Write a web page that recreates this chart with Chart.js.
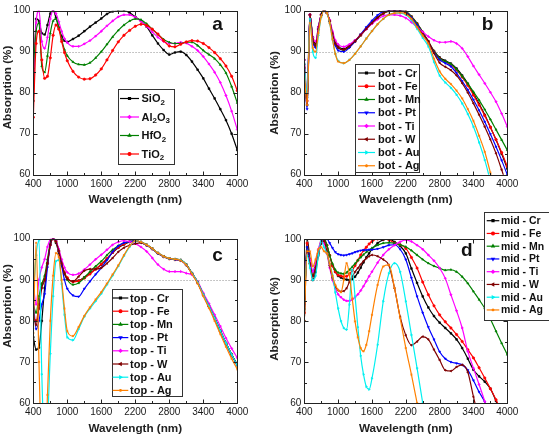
<!DOCTYPE html>
<html>
<head>
<meta charset="utf-8">
<script src="https://cdn.jsdelivr.net/npm/chart.js@4.4.1/dist/chart.umd.min.js"></script>
<style>
  body { margin: 0; background: #fff; width: 549px; height: 436px; position: relative; overflow: hidden; }
  canvas { position: absolute; }
</style>
</head>
<body>
<canvas id="chartA" width="275" height="218" style="left:0;top:0"></canvas>
<canvas id="chartB" width="287" height="218" style="left:262px;top:0"></canvas>
<canvas id="chartC" width="275" height="218" style="left:0;top:218px"></canvas>
<canvas id="chartD" width="287" height="236" style="left:262px;top:200px"></canvas>
<script>
// ---- data (wavelength in nm, absorption in %) ----
const wavelengths = [400,450,500,550,600,650,700,750,800,850,900,950,1000,
  1100,1200,1300,1400,1500,1600,1700,1800,1900,2000,
  2100,2200,2300,2400,2500,2600,2700,2800,2900,3000,
  3100,3200,3300,3400,3500,3600,3700,3800,3900,4000];

// panel d has finer steps up to 1600 nm
const wavelengthsD = [400,450,500,550,600,650,700,750,800,850,900,950,1000,
  1050,1100,1150,1200,1250,1300,1350,1400,1450,1500,1550,1600,
  1700,1800,1900,2000,2100,2200,2300,2400,2500,2600,2700,2800,2900,3000,
  3100,3200,3300,3400,3500,3600,3700,3800,3900,4000];

const xTickValues = [400, 1000, 1600, 2200, 2800, 3400, 4000];
const xMinorValues = [700, 1300, 1900, 2500, 3100, 3700];
const yTickValues = [60, 70, 80, 90, 100];
const yMinorValues = [65, 75, 85, 95];

// a: dielectric spacers
const oxideNames = ['SiO2', 'Al2O3', 'HfO2', 'TiO2'];
const sio2 = [78, 98, 97.5, 94.5, 94.2, 96.5, 99.3, 100, 98.3, 95.8, 93.8, 92.7, 92.4,
  93.1, 93.9, 95, 96.1, 97.1, 98.1, 99.2, 99.8, 100, 100,
  99.5, 98.5, 97.5, 96.1, 94, 92, 90.4, 89.3, 89.8, 90,
  89.2, 87.6, 85.6, 83.5, 81, 78.6, 76, 73.3, 70, 66];
const al2o3 = [82, 97, 100, 92.5, 90.8, 93.5, 98, 100, 99.3, 97.3, 95, 93.2, 92.2,
  91.3, 91.3, 91.9, 92.7, 93.8, 95, 96.3, 97.5, 98.5, 99,
  99, 98.4, 97.4, 96.2, 94.8, 93.5, 92.5, 92, 92, 92.3,
  92.1, 91.3, 90.3, 88.8, 87, 85, 82.5, 79.3, 75.5, 71];
const hfo2 = [86, 95, 97, 86.5, 85, 89, 94.5, 97.5, 98, 96, 93, 90.5, 89,
  87.5, 86.9, 86.8, 87.3, 88.5, 90, 91.8, 93.6, 95.2, 96.5,
  97.5, 98, 97.8, 96.8, 95.5, 94.2, 93, 92.3, 92, 92,
  92.3, 92.3, 91.5, 90.3, 89.3, 88.3, 86.8, 84.8, 81.5, 77.5];
const tio2 = [74, 92, 95, 88, 83.5, 84, 88.5, 94, 96.5, 95.5, 92.5, 89.8, 87.8,
  85.2, 83.8, 83.3, 83.4, 84.3, 85.8, 88, 90.3, 92.4, 94,
  95.2, 96.2, 96.7, 96.4, 95.5, 94.3, 92.7, 91.4, 91.2, 91.8,
  92.4, 92.7, 92.6, 92, 91, 89.8, 88.3, 86.5, 84, 80.5];

// b, c, d: metal layer in bottom / top / middle position
const metals = ['Cr', 'Fe', 'Mn', 'Pt', 'Ti', 'W', 'Au', 'Ag'];

const botCr = [88, 77, 99, 93.5, 92, 96, 99, 100, 99.5, 97.5, 94.5, 92.3, 91.3,
  90.7, 91.5, 92.7, 94.2, 95.7, 97.1, 98.4, 99.4, 100, 100,
  100, 99.8, 98.6, 96.9, 94.8, 92.5, 90.2, 88.6, 87.8, 87.1,
  85.9, 84.2, 82.2, 79.8, 77.3, 74.6, 71.6, 68.5, 65.1, 61.5];
const botFe = [86, 78, 99, 93, 91.5, 95.5, 99, 100, 99.5, 97.5, 94.3, 92, 91,
  90.4, 91.2, 92.5, 94, 95.6, 97, 98.3, 99.3, 100, 100,
  100, 99.8, 98.5, 96.8, 94.7, 92.3, 90, 88.3, 87.5, 86.8,
  85.5, 83.8, 81.8, 79.4, 77, 74.4, 71.6, 68.6, 65.4, 62];
const botMn = [87, 79, 99, 93, 91.5, 95.5, 99, 100, 99.5, 97.5, 94.3, 92, 91,
  90.4, 91.2, 92.5, 94, 95.6, 97, 98.3, 99.3, 99.9, 100,
  100, 99.8, 98.5, 96.8, 94.7, 92.3, 90, 88.3, 87.6, 87,
  85.7, 84, 82.2, 80.2, 78.2, 75.9, 73.5, 71, 68.5, 66];
const botPt = [85, 76, 99, 92.5, 91, 95.5, 99, 100, 99.5, 97.3, 94, 91.5, 90.3,
  90, 91, 92.5, 94.2, 96, 97.6, 98.9, 99.8, 100, 100,
  100, 99.7, 98.3, 96.5, 94.5, 92.2, 89.8, 88, 87.2, 86.4,
  84.8, 82.8, 80.7, 78.3, 75.7, 72.9, 69.9, 66.8, 63.5, 60];
const botTi = [88, 80, 99, 93.5, 92.5, 96, 99, 100, 99.5, 97.8, 95, 92.8, 91.8,
  91.2, 91.8, 92.8, 94.1, 95.5, 96.8, 97.9, 98.7, 99, 99,
  98.8, 98.2, 97.2, 96, 94.8, 93.7, 92.8, 92.3, 92.3, 92.5,
  92, 90.8, 88.8, 86.5, 84.4, 82.3, 80.1, 77.8, 74.9, 71.7];
const botW = [86, 77, 99, 93, 91.5, 95.5, 99, 100, 99.5, 97.5, 94.3, 92, 91,
  90.5, 91.3, 92.6, 94.1, 95.6, 97, 98.3, 99.3, 99.9, 100,
  99.9, 99.5, 98, 96, 94.3, 92.6, 89.6, 87.3, 86.3, 85.5,
  84.2, 82.3, 80, 77.4, 74.6, 71.7, 68.6, 65.2, 61.2, 57];
const botAu = [87, 80, 98, 90, 88.5, 94, 98.5, 100, 99.5, 97, 93, 89.5, 87.8,
  87.2, 88, 89.5, 91.3, 93.2, 95, 96.7, 98, 99, 99.4,
  99.4, 99, 97.7, 95.6, 93.4, 91.3, 87.5, 84.2, 82.5, 81.2,
  79.5, 77.4, 74.8, 71.7, 67.9, 63.6, 58.5, null, null, null];
const botAg = [85, 77, 97, 91, 90, 94.5, 98.5, 100, 99.5, 97, 93, 89.5, 87.6,
  87.2, 88, 89.5, 91.3, 93.2, 95, 96.7, 98, 99, 99.4,
  99.5, 99.2, 98, 96, 93.9, 92, 88.3, 85.2, 83.4, 82.1,
  80.5, 78.6, 76, 73.1, 69.5, 65.6, 60.5, 55, null, null];

const topCr = [76, 73, 73.5, 80, 88, 94, 98.5, 100, 99, 96.5, 93.5, 91.5, 90.3,
  89.6, 89.8, 90.6, 91.6, 92.6, 93.7, 95, 96.6, 97.8, 98.6,
  99.2, 99.5, 99.2, 98.5, 97.6, 96.5, 95.7, 95.2, 95, 94.8,
  93.7, 91.6, 89.4, 86.4, 83.6, 80.7, 77.6, 74.6, 71.8, 69.3];
const topFe = [81, 80, 84, 89, 90, 94, 98.5, 100, 99.3, 97, 94, 91.8, 90.5,
  89.5, 89.7, 90.4, 91.4, 92.6, 93.8, 95.2, 96.7, 97.9, 98.7,
  99.3, 99.5, 99.1, 98.4, 97.5, 96.4, 95.6, 95.1, 94.9, 94.7,
  93.6, 91.5, 89.3, 86.3, 83.5, 80.6, 77.5, 74.5, 71.7, 69.2];
const topMn = [84, 82, 86, 89, 91, 95, 99, 100, 99.3, 97, 94, 91.5, 90,
  88.8, 89.2, 90.5, 92, 93.3, 94.5, 96, 97.3, 98.3, 99,
  99.3, 99.5, 99.2, 98.5, 97.6, 96.5, 95.7, 95.2, 95, 94.8,
  93.7, 91.6, 89.4, 86.4, 83.6, 80.7, 77.6, 74.6, 71.8, 69.3];
const topPt = [85, 78, 80, 84, 86.5, 93, 98.5, 100, 99.5, 97, 93.5, 90, 87.8,
  86.2, 85.9, 87.8, 89.6, 91.3, 92.9, 94.8, 96.8, 98.2, 99,
  99.3, 99.5, 99.1, 98.4, 97.5, 96.4, 95.6, 95.1, 94.9, 94.7,
  93.6, 91.5, 89.3, 86.3, 83.5, 80.6, 77.5, 74.5, 71.7, 69.2];
const topTi = [89, 84, 90, 93, 95, 98, 99.8, 100, 99.5, 97.5, 95, 93, 91.8,
  91.2, 91.5, 92.5, 93.7, 95, 96.1, 97.3, 98.5, 99.2, 99.5,
  99.3, 98.8, 98, 96.9, 95.3, 93.7, 92.6, 92, 92, 92,
  91.6, 91.2, 89.6, 86.8, 84.2, 81.5, 78.7, 75.8, 73.3, 71];
const topW = [82, 79, 83, 88, 90, 94, 98.5, 100, 99.3, 97, 94, 91.5, 90.2,
  89.6, 90.8, 92.2, 92.6, 92.6, 92.9, 94, 95.3, 96.8, 97.8,
  98.4, 98.8, 99, 98.5, 97.6, 96.5, 95.7, 95.2, 95, 94.8,
  93.7, 91.6, 89.4, 86.4, 83.6, 80.7, 77.6, 74.6, 71.8, 69.3];
const topAu = [86, 96, 99.5, 67, 50, 55, 72, 86, 94.5, 94.8, 89, 81.5, 76,
  75.3, 78, 81, 83, 84.8, 86.6, 88.8, 91, 93.3, 95.8,
  98, 99.5, 99.2, 98.5, 97.6, 96.5, 95.7, 95.2, 95, 94.8,
  93.7, 91.6, 89.4, 86.4, 83.6, 80.7, 77.6, 74.6, 71.8, 69.2];
const topAg = [77, 99, 70, 45, 40, 62, 80, 91, 96.5, 95.5, 90, 83, 77.5,
  76.3, 78.5, 81.2, 83.3, 85.2, 87, 89.1, 91.3, 93.5, 96,
  98.2, 99.5, 99.2, 98.5, 97.6, 96.5, 95.7, 95.2, 95, 94.7,
  93.6, 91.4, 89.1, 86, 83.1, 80, 76.8, 73.7, 70.8, 68.2];

const midCr = [80, 100, 95, 90, 92, 96, 99, 100, 98.5, 96, 93.5, 92, 91,
  90.6, 90.3, 90.1, 90, 90.2, 90.8, 91.8, 93, 94.3, 95.5, 96.5, 97.5,
  99, 99.8, 100, 99.3, 98.3, 96.5, 92.8, 89.3, 86, 83.3, 81.2, 79.6, 78.3, 77,
  75.5, 73.4, 70.8, 68.1, 66.5, 65.2, 63.5, 60.5, 57, null];
const midFe = [82, 99, 94, 91, 93, 96.5, 99, 100, 98.5, 96, 93.5, 92, 91.2,
  91, 90.8, 90.9, 91.5, 92.3, 93.5, 94.8, 96.1, 97.2, 98, 98.8, 99.4,
  100, 100, 99.8, 99, 98.6, 97.7, 95.5, 92.9, 89.5, 86.4, 83.7, 81.5, 79.8, 78.3,
  76.7, 75, 73, 71, 68.6, 66.1, 63.5, 60.8, 57.5, null];
const midMn = [83, 98, 95, 91, 93, 97, 99.5, 100, 98.5, 96, 94, 92.5, 91.8,
  91.6, 91.5, 91.8, 92.5, 93.2, 94, 94.8, 95.5, 96.2, 96.8, 97.3, 97.8,
  98.5, 99, 99.1, 99, 98.6, 98.1, 97.2, 96.1, 95, 94.1, 93.4, 92.9, 92.4, 92.5,
  92, 90.8, 89.2, 87.2, 85.2, 83.1, 80.5, 77.5, 74.6, 71.8];
const midPt = [84, 98, 95, 92, 94, 97, 99, 100, 100, 99, 97.8, 96.8, 96.3,
  96.1, 96, 96.1, 96.3, 96.5, 96.8, 97, 97.2, 97.3, 97.3, 97.4, 97.4,
  97.6, 98, 98.5, 98.6, 97.5, 95, 90.5, 86, 82, 78.5, 75.5, 72.5, 70.8, 70,
  69.7, 69.3, 68, 65.5, 62.7, 60.3, 57, null, null, null];
const midTi = [88, 96, 95, 92, 94, 97.5, 99.5, 99, 96.5, 93, 90, 88, 86.5,
  85.8, 85.2, 84.9, 84.9, 85.2, 85.8, 86.5, 87.4, 88.5, 89.7, 90.9, 92,
  94.2, 96.1, 97.5, 98.5, 99.3, 99.8, 99.4, 98.5, 97.5, 96.1, 94.7, 92.9, 90.4, 86.4,
  82.5, 78.3, 72.6, 68.5, 64.5, 60.4, 56, null, null, null];
const midW = [80, 97, 94, 91, 93, 96.5, 99, 99.5, 97, 93.5, 90.5, 88.5, 87.5,
  87.2, 87.3, 88, 89.5, 90.8, 92, 92.9, 93.8, 94.6, 95.3, 95.8, 96.1,
  95.8, 95, 93.6, 88, 81, 76.5, 74.1, 75, 76.2, 75.5, 73, 70.5, 68, 67.8,
  68.8, 69.3, 67.5, 61.5, 56, null, null, null, null, null];
const midAu = [85, 96, 93, 90, 91, 96, 99.5, 98, 96.5, 94, 91.2, 87, 83.1,
  80, 78.3, 77.9, 84, 92.5, 86, 78.5, 71.5, 67, 64, 63.3, 66,
  74.2, 84.8, 91.6, 94.1, 92, 84.8, 76.6, 68.5, 60, 52, null, null, null, null,
  null, null, null, null, null, null, null, null, null, null];
const midAg = [80, 97, 97, 93.3, 95, 97.5, 98, 97, 96.5, 94, 91, 88.8, 87.6,
  87, 90, 94.1, 91.2, 85.5, 79.9, 76, 73.4, 72.6, 74.2, 77.5, 81.5,
  88.8, 93.3, 93.7, 88, 80.7, 73.4, 66.9, 60, 53, null, null, null, null, null,
  null, null, null, null, null, null, null, null, null, null];

// ---- styling ----
const FONT = "'Liberation Sans', Arial, Helvetica, sans-serif";
const oxideColors = ['#000000', '#ff00ff', '#008000', '#ff0000'];
const oxideStyles = ['rect', 'rectRot', 'triangle', 'circle'];
const metalColors = ['#000000', '#ff0000', '#008000', '#0000ff', '#ff00ff', '#800000', '#00f0f0', '#ff8000'];
const metalStyles = ['rect', 'circle', 'triangle', 'triangle', 'rectRot', 'triangle', 'triangle', 'star'];
const metalRotations = [0, 0, 0, 180, 0, 270, 90, 0];

Chart.defaults.font.family = FONT;

function drawSubText(ctx, text, x, y, size) {
    // digits drawn as subscripts (chemical formulas)
    let cx = x;
    for (const ch of text) {
        const sub = /[0-9]/.test(ch);
        ctx.font = `bold ${sub ? size * 0.72 : size}px ${FONT}`;
        ctx.fillText(ch, cx, sub ? y + size * 0.32 : y);
        cx += ctx.measureText(ch).width;
    }
}

function drawMarker(ctx, style, rotation, x, y, radius) {
    if (Chart.helpers && Chart.helpers.drawPoint) {
        Chart.helpers.drawPoint(ctx, {pointStyle: style, rotation: rotation, radius: radius, borderWidth: 0.8}, x, y);
    } else {
        ctx.beginPath();
        ctx.arc(x, y, radius, 0, Math.PI * 2);
        ctx.fill();
    }
}

function makeDecor(cfg) {
    return {
        id: 'panelDecor',
        beforeDatasetsDraw(chart) {
            // dotted reference line at 90 %
            const {ctx, chartArea: a, scales: {y}} = chart;
            const py = Math.round(y.getPixelForValue(90)) + 0.5;
            ctx.save();
            ctx.strokeStyle = '#b4b4b4';
            ctx.lineWidth = 1;
            ctx.setLineDash([1.5, 1.5]);
            ctx.beginPath();
            ctx.moveTo(a.left, py);
            ctx.lineTo(a.right, py);
            ctx.stroke();
            ctx.restore();
        },
        afterDatasetsDraw(chart) {
            // frame with inward ticks on all four sides
            const {ctx, chartArea: a, scales: {x, y}} = chart;
            const L = Math.round(a.left) + 0.5, R = Math.round(a.right) + 0.5;
            const T = Math.round(a.top) + 0.5, B = Math.round(a.bottom) + 0.5;
            ctx.save();
            ctx.strokeStyle = '#222';
            ctx.lineWidth = 1;
            ctx.strokeRect(L, T, R - L, B - T);
            ctx.beginPath();
            const xt = (vals, len) => vals.forEach(v => {
                const px = Math.round(x.getPixelForValue(v)) + 0.5;
                ctx.moveTo(px, B); ctx.lineTo(px, B - len);
                ctx.moveTo(px, T); ctx.lineTo(px, T + len);
            });
            const yt = (vals, len) => vals.forEach(v => {
                const py = Math.round(y.getPixelForValue(v)) + 0.5;
                ctx.moveTo(L, py); ctx.lineTo(L + len, py);
                ctx.moveTo(R, py); ctx.lineTo(R - len, py);
            });
            xt(xTickValues, 4); xt(xMinorValues, 2.5);
            yt(yTickValues, 4); yt(yMinorValues, 2.5);
            ctx.stroke();
            ctx.restore();
        },
        afterDraw(chart) {
            const ctx = chart.ctx;
            ctx.save();
            // y axis title
            ctx.fillStyle = '#222';
            ctx.font = `bold 11.7px ${FONT}`;
            ctx.textAlign = 'center';
            ctx.textBaseline = 'middle';
            ctx.translate(cfg.yTitle[0], cfg.yTitle[1]);
            ctx.rotate(-Math.PI / 2);
            ctx.fillText('Absorption (%)', 0, 0);
            ctx.setTransform(1, 0, 0, 1, 0, 0);

            // panel letter
            ctx.fillStyle = '#111';
            ctx.font = `bold 19px ${FONT}`;
            ctx.textAlign = 'center';
            ctx.textBaseline = 'alphabetic';
            ctx.fillText(cfg.letter[0], cfg.letter[1], cfg.letter[2]);

            // legend box
            const lg = cfg.legend;
            ctx.fillStyle = '#fff';
            ctx.fillRect(lg.x, lg.y, lg.w, lg.h);
            ctx.strokeStyle = '#333';
            ctx.lineWidth = 1;
            ctx.strokeRect(Math.round(lg.x) + 0.5, Math.round(lg.y) + 0.5, Math.round(lg.w), Math.round(lg.h));
            chart.data.datasets.forEach((ds, i) => {
                const ry = lg.row0 + i * lg.rowH;
                ctx.strokeStyle = ds.borderColor;
                ctx.fillStyle = ds.borderColor;
                ctx.lineWidth = 1.2;
                ctx.beginPath();
                ctx.moveTo(lg.line0, ry);
                ctx.lineTo(lg.line1, ry);
                ctx.stroke();
                drawMarker(ctx, ds.pointStyle, ds.rotation, (lg.line0 + lg.line1) / 2, ry, 1.4);
                ctx.fillStyle = '#111';
                ctx.textAlign = 'left';
                ctx.textBaseline = 'middle';
                drawSubText(ctx, cfg.legendLabels[i], lg.textX, ry + 0.5, lg.font);
            });
            ctx.restore();
        }
    };
}

function makePanel(id, cfg) {
    const canvas = document.getElementById(id);
    if (!canvas) {
        console.error(`Canvas ${id} not found`);
        return null;
    }
    const W = canvas.width, H = canvas.height;
    const box = cfg.box;
    const titleLine = 11.7 * 1.2;
    const xTitlePad = (H - box.bottom - 25.3) - titleLine / 2;

    const datasets = cfg.series.map((vals, i) => ({
        label: cfg.legendLabels[i],
        data: cfg.xs.map((w, k) => ({x: w, y: vals[k]})),
        borderColor: cfg.colors[i],
        backgroundColor: cfg.colors[i],
        pointBackgroundColor: cfg.colors[i],
        pointStyle: cfg.styles[i],
        rotation: cfg.rotations ? cfg.rotations[i] : 0,
        pointRadius: 1.2,
        pointBorderWidth: 0.6,
        borderWidth: 1.2,
        cubicInterpolationMode: 'monotone',
        order: cfg.series.length - i
    }));

    return new Chart(canvas.getContext('2d'), {
        type: 'line',
        data: {datasets},
        options: {
            responsive: false,
            animation: false,
            events: [],
            layout: {padding: {left: 0, top: box.top, right: W - box.right, bottom: 0}},
            plugins: {legend: {display: false}, tooltip: {enabled: false}},
            scales: {
                x: {
                    type: 'linear', min: 400, max: 4000,
                    grid: {display: false, drawTicks: false},
                    border: {display: false},
                    ticks: {
                        color: '#1a1a1a', font: {size: 10}, padding: 3.5, maxRotation: 0, autoSkip: false,
                        callback: v => String(v)
                    },
                    afterBuildTicks: s => { s.ticks = xTickValues.map(v => ({value: v})); },
                    afterFit: s => { s.height = H - box.bottom; },
                    title: {
                        display: true, text: 'Wavelength (nm)', color: '#222',
                        font: {size: 11.7, weight: 'bold'},
                        padding: {top: 0, bottom: xTitlePad}
                    }
                },
                y: {
                    type: 'linear', min: 60, max: 100,
                    grid: {display: false, drawTicks: false},
                    border: {display: false},
                    ticks: {color: '#1a1a1a', font: {size: 10}, padding: 3, callback: v => String(v)},
                    afterBuildTicks: s => { s.ticks = yTickValues.map(v => ({value: v})); },
                    afterFit: s => { s.width = box.left; }
                }
            }
        },
        plugins: [makeDecor(cfg)]
    });
}

makePanel('chartA', {
    xs: wavelengths,
    series: [sio2, al2o3, hfo2, tio2],
    legendLabels: oxideNames,
    colors: oxideColors, styles: oxideStyles,
    box: {left: 33.3, right: 237.3, top: 10.7, bottom: 174.7},
    yTitle: [7.5, 87.5],
    letter: ['a', 217.5, 30],
    legend: {x: 117.5, y: 89.3, w: 56, h: 74.5, row0: 98.5, rowH: 18.5, line0: 120, line1: 139, textX: 141.5, font: 11}
});

makePanel('chartB', {
    xs: wavelengths,
    series: [botCr, botFe, botMn, botPt, botTi, botW, botAu, botAg],
    legendLabels: metals.map(m => 'bot - ' + m),
    colors: metalColors, styles: metalStyles, rotations: metalRotations,
    box: {left: 42.3, right: 245.3, top: 10.7, bottom: 174.7},
    yTitle: [12.5, 93],
    letter: ['b', 225.5, 30],
    legend: {x: 93, y: 64.3, w: 64, h: 108.4, row0: 73, rowH: 13.25, line0: 96, line1: 113, textX: 116, font: 11}
});

makePanel('chartC', {
    xs: wavelengths,
    series: [topCr, topFe, topMn, topPt, topTi, topW, topAu, topAg],
    legendLabels: metals.map(m => 'top - ' + m),
    colors: metalColors, styles: metalStyles, rotations: metalRotations,
    box: {left: 33.3, right: 237.3, top: 20.7, bottom: 185},
    yTitle: [7.5, 88],
    letter: ['c', 217.5, 42.7],
    legend: {x: 111.7, y: 70.7, w: 70, h: 106.6, row0: 80, rowH: 13.2, line0: 112.7, line1: 128.3, textX: 130, font: 11}
});

makePanel('chartD', {
    xs: wavelengthsD,
    series: [midCr, midFe, midMn, midPt, midTi, midW, midAu, midAg],
    legendLabels: metals.map(m => 'mid - ' + m),
    colors: metalColors, styles: metalStyles, rotations: metalRotations,
    box: {left: 42.3, right: 245.3, top: 39, bottom: 203},
    yTitle: [12.5, 119],
    letter: ['d', 204.7, 56.3],
    legend: {x: 222.3, y: 12.3, w: 80, h: 107.7, row0: 20.7, rowH: 12.75, line0: 224.7, line1: 237.3, textX: 239, font: 10.5}
});
</script>
</body>
</html>
